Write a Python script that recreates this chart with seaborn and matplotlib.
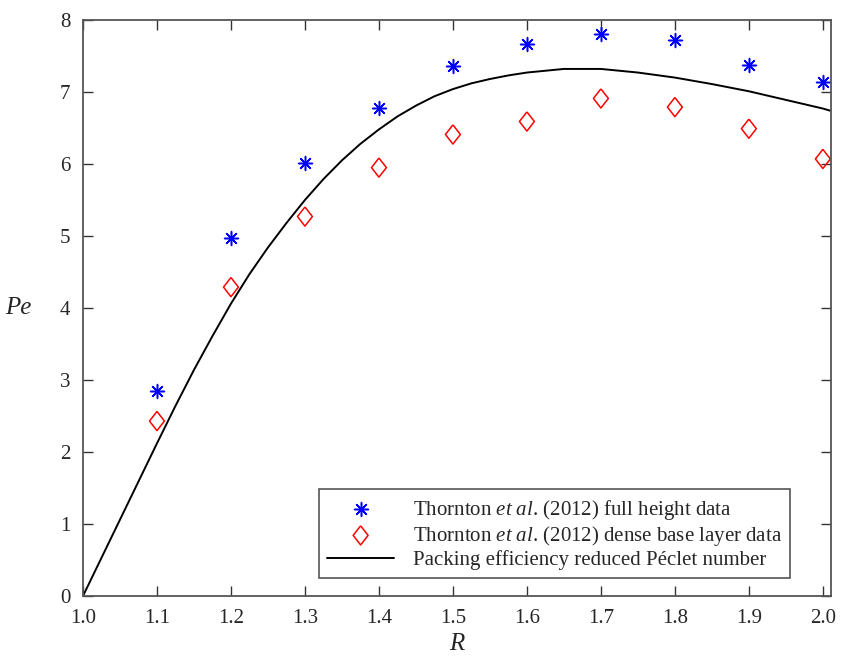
import matplotlib
matplotlib.use("Agg")
import matplotlib.pyplot as plt
import seaborn as sns
import pandas as pd

# data
R_data = [1.1, 1.2, 1.3, 1.4, 1.5, 1.6, 1.7, 1.8, 1.9, 2.0]
pe_full = [2.85, 4.97, 6.02, 6.78, 7.36, 7.67, 7.81, 7.72, 7.38, 7.14]
pe_base = [2.43, 4.29, 5.27, 5.95, 6.41, 6.59, 6.91, 6.79, 6.49, 6.07]

R_curve = [1.0, 1.05, 1.1, 1.125, 1.15, 1.175, 1.2, 1.225, 1.25, 1.275, 1.3,
           1.325, 1.35, 1.375, 1.4, 1.425, 1.45, 1.475, 1.5, 1.525, 1.55,
           1.575, 1.6, 1.65, 1.7, 1.75, 1.8, 1.85, 1.9, 1.95, 2.0, 2.01]
pe_curve = [0.0, 1.06, 2.12, 2.64, 3.14, 3.61, 4.06, 4.47, 4.84, 5.18, 5.50,
            5.79, 6.05, 6.28, 6.48, 6.66, 6.81, 6.94, 7.04, 7.12, 7.18,
            7.23, 7.27, 7.32, 7.32, 7.27, 7.20, 7.11, 7.01, 6.89, 6.77, 6.74]

lab_full = r"Thornton $\it{et\ al}$. (2012) full height data"
lab_base = r"Thornton $\it{et\ al}$. (2012) dense base layer data"
lab_curve = "Packing efficiency reduced Péclet number"

sns.set_style("ticks")
plt.rcParams['font.family'] = ['Liberation Serif', 'DejaVu Serif']
plt.rcParams['mathtext.fontset'] = 'custom'
plt.rcParams['mathtext.rm'] = 'Liberation Serif'
plt.rcParams['mathtext.it'] = 'Liberation Serif:italic'
plt.rcParams['font.size'] = 15

fig = plt.figure(figsize=(8.44, 6.57), dpi=100)
ax = fig.add_axes([0.0983, 0.0928, 0.8863, 0.8768])

df_pts = pd.DataFrame({'R': R_data, 'full': pe_full, 'base': pe_base})
df_line = pd.DataFrame({'R': R_curve, 'Pe': pe_curve})

diamond = [(0, 1), (0.78, 0), (0, -1), (-0.78, 0), (0, 1)]

sns.scatterplot(data=df_pts, x='R', y='full', ax=ax, marker=(8, 2, 0), s=100,
                color='blue', edgecolor='blue', linewidth=1.1, label=lab_full)
sns.scatterplot(data=df_pts, x='R', y='base', ax=ax, marker=diamond, s=190,
                facecolor='none', edgecolor='red', linewidth=1.1, label=lab_base)
sns.lineplot(data=df_line, x='R', y='Pe', ax=ax, color='black', linewidth=1.4,
             label=lab_curve)

ax.set_xlim(1.0, 2.011)
ax.set_ylim(0, 8)
ax.set_xticks([1.0, 1.1, 1.2, 1.3, 1.4, 1.5, 1.6, 1.7, 1.8, 1.9, 2.0])
ax.set_xticklabels(['1.0', '1.1', '1.2', '1.3', '1.4', '1.5', '1.6', '1.7', '1.8', '1.9', '2.0'])
ax.set_yticks(range(0, 9))
ax.tick_params(direction='in', top=True, right=True, length=7, width=1,
               labelsize=15, pad=9, color='#333333')
for sp in ax.spines.values():
    sp.set_visible(True)
    sp.set_color('#555555')
    sp.set_linewidth(1.3)

ax.set_xlabel('R', fontstyle='italic', fontsize=18, labelpad=4)
ax.set_ylabel('Pe', fontstyle='italic', fontsize=18, rotation=0, labelpad=30, va='center')

leg = ax.legend(loc='lower left', bbox_to_anchor=(0.3155, 0.031), borderaxespad=0,
                fancybox=False, framealpha=1, edgecolor='#555555', fontsize=15,
                handlelength=3.2, labelspacing=0.1, borderpad=0.4, handletextpad=0.9)
leg.get_frame().set_linewidth(1.2)

fig.savefig('out.png', dpi=100)
